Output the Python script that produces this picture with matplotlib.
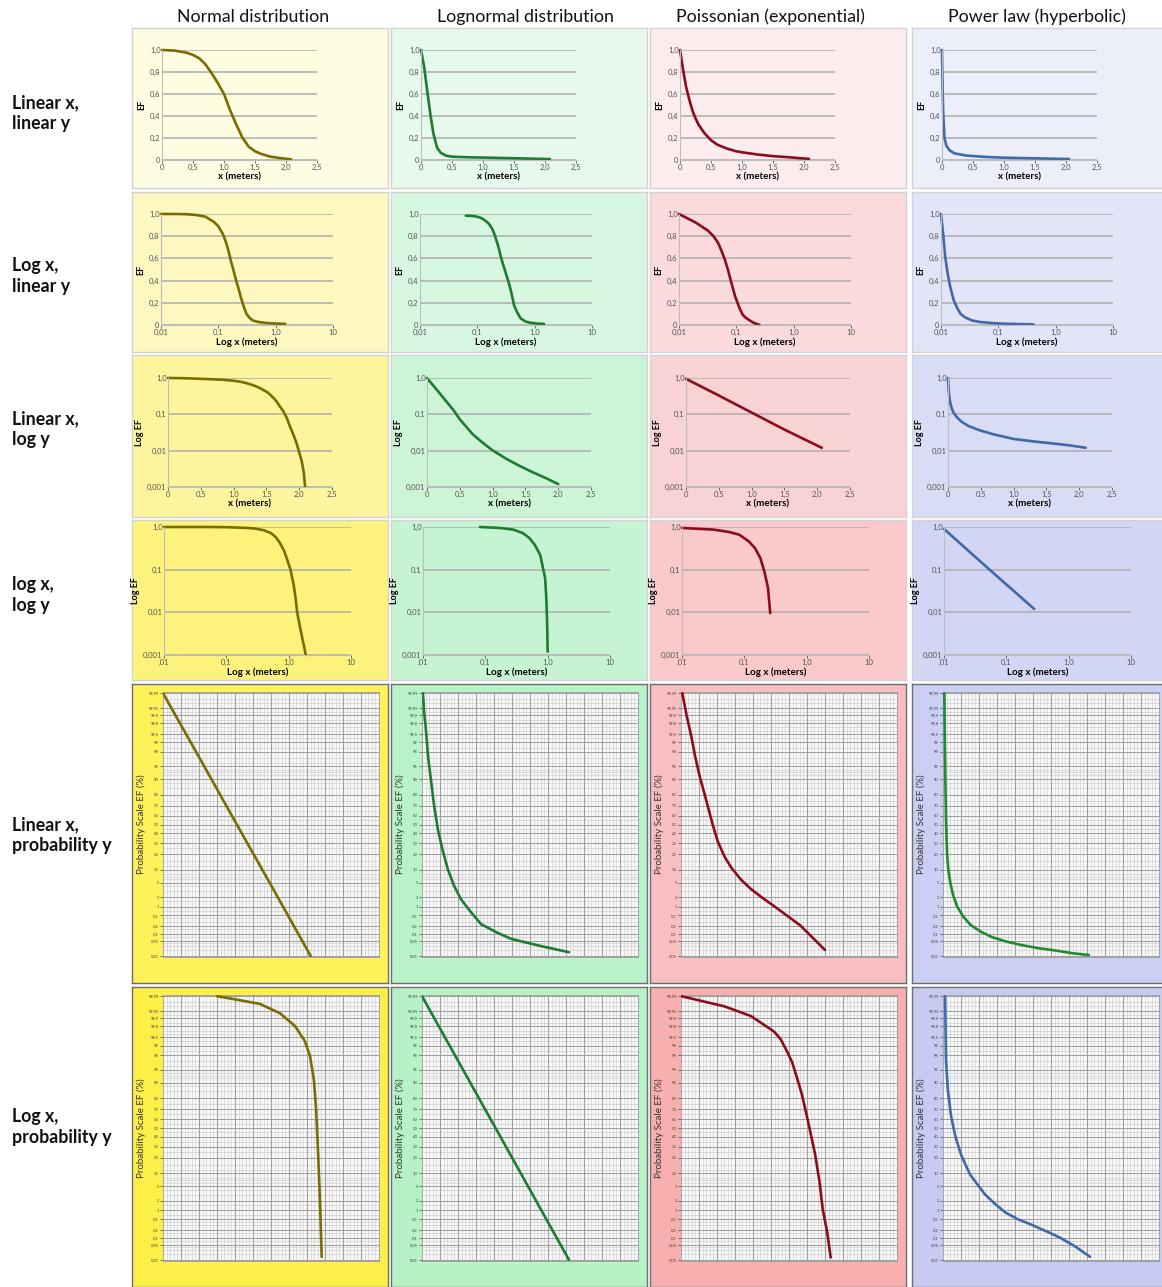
import math
import numpy as np
import matplotlib.pyplot as plt
from matplotlib.ticker import NullLocator

plt.rcParams['font.family'] = ['Lato', 'DejaVu Sans']

W, H = 1162, 1287

column_titles = ['Normal distribution', 'Lognormal distribution',
                 'Poissonian (exponential)', 'Power law (hyperbolic)']
row_titles = ['Linear x,\nlinear y', 'Log x,\nlinear y', 'Linear x,\nlog y',
              'log x,\nlog y', 'Linear x,\nprobability y', 'Log x,\nprobability y']

# --- curves: (x in meters, EF) ; probability rows in %
# row 1: linear x, linear y
normal_linlin = ([0, 0.2, 0.4, 0.5, 0.6, 0.7, 0.8, 0.9, 1.0, 1.1, 1.2, 1.3, 1.4, 1.5, 1.6, 1.75, 1.9, 2.08],
                 [1.0, 0.995, 0.975, 0.955, 0.925, 0.87, 0.79, 0.70, 0.60, 0.45, 0.32, 0.20, 0.12, 0.08,
                  0.055, 0.03, 0.018, 0.006])
lognorm_linlin = ([0, 0.05, 0.1, 0.15, 0.2, 0.26, 0.32, 0.4, 0.5, 0.75, 1.0, 1.5, 2.08],
                  [1.0, 0.85, 0.63, 0.42, 0.24, 0.11, 0.065, 0.04, 0.03, 0.025, 0.022, 0.016, 0.008])
poisson_linlin = ([0, 0.05, 0.1, 0.15, 0.2, 0.25, 0.3, 0.4, 0.5, 0.6, 0.75, 0.9, 1.0, 1.25, 1.5, 1.75, 2.08],
                  [1.0, 0.82, 0.66, 0.55, 0.45, 0.38, 0.32, 0.24, 0.18, 0.14, 0.105, 0.08, 0.07, 0.05,
                   0.035, 0.025, 0.01])
power_linlin = ([0, 0.01, 0.02, 0.04, 0.07, 0.12, 0.2, 0.4, 0.7, 1.0, 1.5, 2.05],
                [1.0, 0.65, 0.42, 0.2, 0.13, 0.09, 0.06, 0.04, 0.028, 0.021, 0.015, 0.009])

# row 2: log x, linear y
normal_loglin = ([0.01, 0.02, 0.03, 0.043, 0.06, 0.083, 0.1, 0.12, 0.135, 0.15, 0.165, 0.18, 0.195, 0.21,
                  0.23, 0.25, 0.28, 0.31, 0.35, 0.4, 0.5, 0.7, 1.0, 1.47],
                 [1.0, 1.0, 0.997, 0.99, 0.975, 0.93, 0.89, 0.82, 0.75, 0.67, 0.58, 0.51, 0.44, 0.38,
                  0.31, 0.24, 0.16, 0.10, 0.065, 0.04, 0.027, 0.018, 0.013, 0.01])
lognorm_loglin = ([0.063, 0.08, 0.1, 0.115, 0.13, 0.15, 0.165, 0.18, 0.195, 0.21, 0.225, 0.24, 0.255, 0.28,
                   0.3, 0.33, 0.356, 0.38, 0.4, 0.42, 0.436, 0.47, 0.5, 0.57, 0.7, 0.85, 1.1, 1.46],
                  [0.985, 0.983, 0.975, 0.965, 0.95, 0.925, 0.9, 0.87, 0.83, 0.78, 0.73, 0.68, 0.62, 0.55,
                   0.5, 0.43, 0.375, 0.32, 0.27, 0.22, 0.18, 0.14, 0.11, 0.06, 0.03, 0.02, 0.013, 0.01])
poisson_loglin = ([0.01, 0.02, 0.032, 0.04, 0.048, 0.055, 0.063, 0.072, 0.082, 0.095, 0.114, 0.13, 0.15,
                   0.2, 0.255],
                  [1.0, 0.92, 0.85, 0.8, 0.74, 0.67, 0.59, 0.49, 0.38, 0.26, 0.15, 0.09, 0.06, 0.02, 0.0])
power_loglin = ([0.01, 0.011, 0.0118, 0.013, 0.0144, 0.0165, 0.0188, 0.022, 0.026, 0.035, 0.048, 0.08,
                 0.124, 0.2, 0.41],
                [1.0, 0.8, 0.62, 0.47, 0.35, 0.23, 0.16, 0.1, 0.07, 0.04, 0.027, 0.017, 0.012, 0.009, 0.006])

# row 3: linear x, log y
normal_linlog = ([0, 0.2, 0.43, 0.69, 0.85, 1.0, 1.1, 1.2, 1.3, 1.4, 1.46, 1.52, 1.57, 1.61, 1.66, 1.7,
                  1.76, 1.81, 1.86, 1.91, 1.96, 2.0, 2.04, 2.07, 2.09],
                 [1.0, 0.99, 0.96, 0.92, 0.89, 0.84, 0.79, 0.72, 0.63, 0.53, 0.46, 0.40, 0.33, 0.28, 0.22,
                  0.17, 0.12, 0.08, 0.046, 0.028, 0.016, 0.009, 0.005, 0.0025, 0.001])
lognorm_linlog = ([0, 0.1, 0.2, 0.3, 0.4, 0.5, 0.6, 0.7, 0.8, 0.9, 1.0, 1.2, 1.4, 1.6, 1.8, 2.0],
                  [1.0, 0.605, 0.366, 0.22, 0.133, 0.073, 0.045, 0.028, 0.0196, 0.014, 0.0102, 0.0061,
                   0.0039, 0.0026, 0.0018, 0.0012])
poisson_linlog = ([0, 0.5, 1.0, 1.5, 2.07],
                  [0.95, 0.33, 0.112, 0.038, 0.012])
power_linlog = ([0, 0.003, 0.006, 0.01, 0.02, 0.036, 0.06, 0.087, 0.13, 0.21, 0.32, 0.49, 0.7, 1.0, 1.3,
                 1.57, 1.85, 2.1],
                [1.0, 0.8, 0.6, 0.45, 0.3, 0.2, 0.14, 0.11, 0.085, 0.062, 0.047, 0.036, 0.028, 0.021,
                 0.018, 0.016, 0.014, 0.012])

# row 4: log x, log y
normal_loglog = ([0.01, 0.05, 0.1, 0.226, 0.3, 0.4, 0.52, 0.62, 0.72, 0.85, 0.95, 1.07, 1.2, 1.3, 1.37,
                  1.5, 1.65, 1.8, 1.88],
                 [1.0, 1.0, 0.99, 0.95, 0.91, 0.84, 0.72, 0.58, 0.43, 0.27, 0.17, 0.1, 0.045, 0.02, 0.01,
                  0.005, 0.0025, 0.0014, 0.001])
lognorm_loglog = ([0.082, 0.17, 0.28, 0.40, 0.51, 0.62, 0.76, 0.82, 0.91, 0.95, 0.976, 1.0],
                  [1.0, 0.95, 0.87, 0.72, 0.55, 0.385, 0.22, 0.13, 0.064, 0.022, 0.0074, 0.0012])
poisson_loglog = ([0.01, 0.032, 0.058, 0.083, 0.118, 0.148, 0.18, 0.21, 0.24, 0.26],
                  [0.95, 0.87, 0.76, 0.66, 0.46, 0.32, 0.19, 0.09, 0.037, 0.0096])
power_loglog = ([0.01, 0.05, 0.28],
                [0.9, 0.11, 0.012])

# row 5: linear x, probability y (EF in %)
normal_linprob = ([0, 0.5, 1.0, 1.5, 2.05],
                  [99.99, 97.2, 53.6, 4.3, 0.01])
lognorm_linprob = ([0.014, 0.028, 0.056, 0.083, 0.125, 0.167, 0.222, 0.292, 0.361, 0.444, 0.542, 0.681,
                    0.82, 1.03, 1.24, 1.65, 2.04],
                   [99.99, 99.935, 99.6, 97.4, 89.4, 70.9, 43.8, 22, 10, 4.2, 1.7, 0.65, 0.24, 0.115,
                    0.06, 0.029, 0.015])
poisson_linprob = ([0.018, 0.078, 0.147, 0.193, 0.26, 0.32, 0.375, 0.44, 0.51, 0.606, 0.70, 0.834, 0.97,
                    1.13, 1.29, 1.47, 1.66, 2.0],
                   [99.99, 99.9, 99.3, 97.5, 91.3, 82, 69, 50, 31.7, 18, 11, 5.9, 3.4, 1.9, 1.05, 0.5,
                    0.21, 0.019])
power_linprob = ([0.019, 0.024, 0.033, 0.042, 0.057, 0.075, 0.104, 0.141, 0.198, 0.283, 0.386, 0.527,
                  0.669, 0.857, 1.093, 1.328, 1.564, 1.80, 2.025],
                 [99.99, 99.59, 89.2, 54.3, 20.3, 9.7, 4.7, 2.27, 0.99, 0.45, 0.22, 0.12, 0.074, 0.048,
                  0.032, 0.023, 0.018, 0.0134, 0.011])

# row 6: log x, probability y (EF in %)
normal_logprob = ([0.056, 0.22, 0.42, 0.68, 0.93, 1.10, 1.25, 1.34, 1.42, 1.51, 1.6],
                  [99.99, 99.977, 99.94, 99.8, 99.3, 97.9, 91, 69, 27, 2.2, 0.014])
lognorm_logprob = ([0.01, 0.105, 1.1],
                   [99.99, 50, 0.01])
poisson_logprob = ([0.01, 0.04, 0.094, 0.197, 0.243, 0.295, 0.35, 0.41, 0.48, 0.56, 0.64, 0.73, 0.84,
                    0.93, 1.07, 1.2],
                   [99.99, 99.97, 99.92, 99.67, 99.38, 98.5, 96.8, 92, 82.4, 63, 41.7, 22.7, 6.4, 1.1,
                    0.17, 0.013])
power_logprob = ([0.0107, 0.011, 0.0117, 0.0129, 0.0147, 0.0178, 0.0237, 0.038, 0.053, 0.073, 0.11, 0.16,
                  0.26, 0.42, 0.7, 1.1],
                 [99.99, 97.1, 85.5, 64, 42, 22.6, 9.5, 3.1, 1.6, 0.87, 0.5, 0.34, 0.19, 0.10, 0.04, 0.014])

curves = [
    [normal_linlin, lognorm_linlin, poisson_linlin, power_linlin],
    [normal_loglin, lognorm_loglin, poisson_loglin, power_loglin],
    [normal_linlog, lognorm_linlog, poisson_linlog, power_linlog],
    [normal_loglog, lognorm_loglog, poisson_loglog, power_loglog],
    [normal_linprob, lognorm_linprob, poisson_linprob, power_linprob],
    [normal_logprob, lognorm_logprob, poisson_logprob, power_logprob],
]

prob_ticks = [0.01, 0.05, 0.1, 0.2, 0.5, 1, 2, 5, 10, 20, 30, 40, 50, 60, 70, 80, 90,
              95, 98, 99, 99.5, 99.8, 99.9, 99.95, 99.99]
prob_minor = [0.02, 0.03, 0.04, 0.07, 0.15, 0.3, 0.4, 0.7, 1.5, 3, 4, 6, 7, 8, 12, 15,
              25, 35, 45, 55, 65, 75, 85, 88, 92, 93, 94, 96, 97, 98.5, 99.3, 99.6, 99.7,
              99.85, 99.93, 99.97, 99.98]

# --- styling
line_colors = ['#7a6c00', '#1e7b30', '#8b0d1d', '#4169a8']
bg_colors = [
    ['#fefde2', '#e6f9ec', '#fdeced', '#eceefa'],
    ['#fcf8c0', '#d8f7e1', '#fadadb', '#e2e4f8'],
    ['#fcf59e', '#ccf5d8', '#f9d2d3', '#d8dcf5'],
    ['#fdf37c', '#c6f4d3', '#f9c9cb', '#d2d5f4'],
    ['#fef15a', '#b9f2c8', '#f8bec0', '#cbcff3'],
    ['#feef48', '#b6f2c6', '#f8afb0', '#c7cbf2'],
]
col_left = [132, 391, 650, 912]
panel_w = 256
row_top = [28, 192, 355, 520, 684, 987]
row_h = [160, 160, 162, 160, 299, 300]
# (left offset, width, top offset, bottom offset) of the plotting area in a panel
inner = [(30, 155, 22, 28), (29, 172, 22, 27), (36, 164, 23, 30),
         (32, 187, 7, 25), (31, 216, 8, 26), (31, 216, 8, 26)]


def rect(x0, y0, w, h):
    return [x0 / W, 1 - (y0 + h) / H, w / W, h / H]


def comma(v):
    return str(v).replace('.', ',')


# normal probability scale helpers (no scipy)
A = [-3.969683028665376e+01, 2.209460984245205e+02, -2.759285104469687e+02,
     1.383577518672690e+02, -3.066479806614716e+01, 2.506628277459239e+00]
B = [-5.447609879822406e+01, 1.615858368580409e+02, -1.556989798598866e+02,
     6.680131188771972e+01, -1.328068155288572e+01]
C = [-7.784894002430293e-03, -3.223964580411365e-01, -2.400758277161838e+00,
     -2.549732539343734e+00, 4.374664141464968e+00, 2.938163982698783e+00]
D = [7.784695709041462e-03, 3.224671290700398e-01, 2.445134137142996e+00,
     3.754408661907416e+00]


def norm_ppf(p):
    p = np.clip(np.asarray(p, dtype=float), 1e-12, 1 - 1e-12)
    out = np.empty_like(p)
    plow = 0.02425
    lo = p < plow
    hi = p > 1 - plow
    mid = ~(lo | hi)
    q = np.sqrt(-2 * np.log(p[lo]))
    out[lo] = ((((((C[0]*q+C[1])*q+C[2])*q+C[3])*q+C[4])*q+C[5]) /
               ((((D[0]*q+D[1])*q+D[2])*q+D[3])*q+1))
    q = np.sqrt(-2 * np.log(1 - p[hi]))
    out[hi] = -((((((C[0]*q+C[1])*q+C[2])*q+C[3])*q+C[4])*q+C[5]) /
                ((((D[0]*q+D[1])*q+D[2])*q+D[3])*q+1))
    q = p[mid] - 0.5
    r = q * q
    out[mid] = ((((((A[0]*r+A[1])*r+A[2])*r+A[3])*r+A[4])*r+A[5])*q /
                (((((B[0]*r+B[1])*r+B[2])*r+B[3])*r+B[4])*r+1))
    return out


_erf = np.vectorize(math.erf)


def prob_forward(p):
    return norm_ppf(np.asarray(p, dtype=float) / 100.0)


def prob_inverse(z):
    z = np.asarray(z, dtype=float)
    return 50.0 * (1 + _erf(z / math.sqrt(2)))


fig = plt.figure(figsize=(W / 100, H / 100), dpi=100)
fig.patch.set_facecolor('white')

header_x = [253, 525, 770, 1037]
for title, cx in zip(column_titles, header_x):
    fig.text(cx / W, 1 - 17 / H, title, ha='center', va='center', fontsize=12.8, color='#111111')

label_y = [113, 276, 429, 595, 835, 1127]
for title, cy in zip(row_titles, label_y):
    fig.text(12 / W, 1 - cy / H, title, ha='left', va='center', fontsize=12.8,
             fontweight='bold', color='#111111', linespacing=1.25)

for r in range(6):
    for c in range(4):
        x0, y0 = col_left[c], row_top[r]
        bg = fig.add_axes(rect(x0, y0, panel_w, row_h[r]))
        bg.set_facecolor(bg_colors[r][c])
        bg.set_xticks([])
        bg.set_yticks([])
        for s in bg.spines.values():
            s.set_color('#6e6e6e' if r >= 4 else '#d2d2d2')
            s.set_linewidth(1.0)
        bg.set_zorder(0)

        li, wi, ti, bi = inner[r]
        ax = fig.add_axes(rect(x0 + li, y0 + ti, wi, row_h[r] - ti - bi))
        ax.set_zorder(1)
        xs, ys = curves[r][c]
        color = line_colors[c]
        if r == 4 and c == 3:
            color = '#1f8a30'

        if r < 4:
            ax.patch.set_alpha(0)
            for side in ['top', 'right']:
                ax.spines[side].set_visible(False)
            for side in ['left', 'bottom']:
                ax.spines[side].set_color('#bdbdbd')
                ax.spines[side].set_linewidth(0.8)
            logx = r in (1, 3)
            logy = r in (2, 3)
            if logx:
                ax.set_xscale('log')
                ax.set_xlim(0.01, 10)
                ax.set_xticks([0.01, 0.1, 1, 10])
                ax.set_xticklabels([',01' if r == 3 else '0,01', '0,1', '1,0', '10'])
                ax.xaxis.set_minor_locator(NullLocator())
                ax.set_xlabel('Log x (meters)', fontsize=7, fontweight='bold', labelpad=1)
            else:
                ax.set_xlim(0, 2.5)
                ax.set_xticks([0, 0.5, 1, 1.5, 2, 2.5])
                ax.set_xticklabels(['0', '0,5', '1,0', '1,5', '2,0', '2,5'])
                ax.set_xlabel('x (meters)', fontsize=7, fontweight='bold', labelpad=1)
            if logy:
                ax.set_yscale('log')
                ax.set_ylim(0.001, 1)
                ax.set_yticks([0.001, 0.01, 0.1, 1])
                ax.set_yticklabels(['0,001', '0,01', '0,1', '1,0'])
                ax.yaxis.set_minor_locator(NullLocator())
                ax.set_ylabel('Log EF', fontsize=6.5, fontweight='bold', labelpad=2)
            else:
                ax.set_ylim(0, 1)
                ax.set_yticks([0, 0.2, 0.4, 0.6, 0.8, 1.0])
                ax.set_yticklabels(['0', '0,2', '0,4', '0,6', '0,8', '1,0'])
                ax.set_ylabel('EF', fontsize=6.5, fontweight='bold', labelpad=3)
            ax.tick_params(labelsize=5.5, colors='#555555', length=2, width=0.6, pad=1)
            ax.tick_params(axis='y', length=0)
            ax.grid(axis='y', color='#adadad', linewidth=1.1)
            ax.set_axisbelow(True)
            ax.plot(xs, ys, color=color, linewidth=1.9, clip_on=False,
                    solid_capstyle='round', solid_joinstyle='round')
        else:
            ax.set_facecolor('#f8f8f8')
            for s in ax.spines.values():
                s.set_color('#9a9a9a')
                s.set_linewidth(0.6)
            ax.set_yscale('function', functions=(prob_forward, prob_inverse))
            ax.set_ylim(0.0088, 99.9912)
            ax.set_yticks(prob_ticks)
            ax.set_yticklabels([comma(t) for t in prob_ticks])
            ax.set_yticks(prob_minor, minor=True)
            ax.tick_params(axis='y', which='major', labelsize=3, colors='#444444',
                           length=2, width=0.5, pad=1)
            ax.tick_params(axis='y', which='minor', length=0)
            ax.grid(axis='y', which='major', color='#9c9c9c', linewidth=0.7)
            ax.grid(axis='y', which='minor', color='#cfcfcf', linewidth=0.5)
            if r == 4:
                ax.set_xlim(0, 3)
            else:
                ax.set_xscale('log')
                ax.set_xlim(0.01, 10)
            ax.set_xticks([])
            ax.xaxis.set_minor_locator(NullLocator())
            # printed probability-paper vertical rulings
            fine = np.arange(1, 60) / 60
            ax.vlines(fine, 0, 1, transform=ax.transAxes, colors='#d2d2d2', linewidth=0.5, zorder=0.5)
            ax.vlines(fine[4::5], 0, 1, transform=ax.transAxes, colors='#a0a0a0', linewidth=0.8, zorder=0.6)
            ax.set_axisbelow(True)
            ax.set_ylabel('Probability Scale EF (%)', fontsize=7, color='#333333', labelpad=2)
            ax.plot(xs, ys, color=color, linewidth=1.9, solid_capstyle='round',
                    solid_joinstyle='round', zorder=3)

fig.savefig('out.png', dpi=100)
